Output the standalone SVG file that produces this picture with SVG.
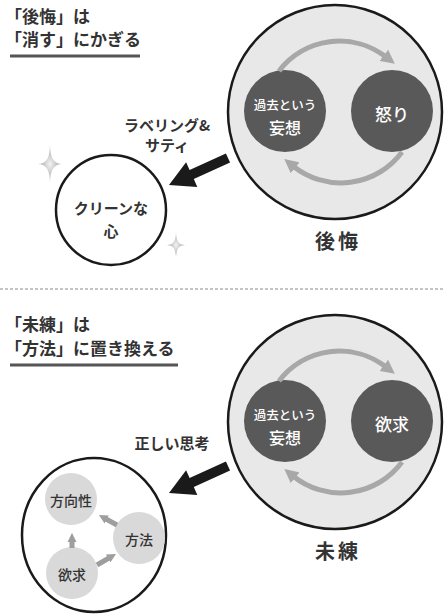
<svg xmlns="http://www.w3.org/2000/svg" width="444" height="614" viewBox="0 0 444 614">
<style>
text{font-family:"Noto Sans CJK JP","Noto Sans",sans-serif;font-weight:bold;fill:#333}
.title{font-size:17px}
.lbl{font-size:15px;text-anchor:middle}
.big{font-size:20px;text-anchor:middle;letter-spacing:3px}
.wt{fill:#fff;text-anchor:middle;font-weight:500}
.inner{font-size:14px;text-anchor:middle;font-weight:500}
.bigc{fill:#e8e8e8;stroke:#1a1a1a;stroke-width:2.5}
.dark{fill:#595959}
.cycle{fill:none;stroke:#a8a8a8;stroke-width:5;marker-end:url(#gh)}
.small{fill:none;stroke:#9e9e9e;stroke-width:5;marker-end:url(#sh)}
.light{fill:#d9d9d9}
.uline{stroke:#555;stroke-width:3}
.fat{fill:#1a1a1a}
.spark{fill:url(#sg)}
</style>
<defs>
<marker id="gh" viewBox="0 0 10 10" markerWidth="14" markerHeight="15" refX="2" refY="5" orient="auto" markerUnits="userSpaceOnUse"><path d="M0,0 L10,5 L0,10 z" fill="#a8a8a8"/></marker>
<marker id="sh" viewBox="0 0 10 10" markerWidth="9" markerHeight="13" refX="1" refY="5" orient="auto" markerUnits="userSpaceOnUse"><path d="M0,0 L10,5 L0,10 z" fill="#9e9e9e"/></marker>
<radialGradient id="sg" cx="0.5" cy="0.5" r="0.5"><stop offset="0" stop-color="#f2f2f2"/><stop offset="1" stop-color="#a0a0a0"/></radialGradient>
</defs>

<g id="title-top">
<text class="title" x="5" y="23">「後悔」は</text>
<text class="title" x="5" y="46">「消す」にかぎる</text>
<line class="uline" x1="10" y1="56" x2="140" y2="56"/>
</g>

<g id="koukai">
<circle class="bigc" cx="335" cy="112" r="107"/>
<text class="big" x="338" y="249">後悔</text>
</g>
<g id="mousou-top">
<circle class="dark" cx="285" cy="111" r="41"/>
<text class="wt" x="285" y="110" font-size="12.5">過去という</text>
<text class="wt" x="285" y="134" font-size="16">妄想</text>
</g>
<g id="ikari">
<circle class="dark" cx="392" cy="111" r="41"/>
<text class="wt" x="392" y="121" font-size="17">怒り</text>
</g>

<g id="clean">
<circle cx="111" cy="210" r="55" fill="#fff" stroke="#1a1a1a" stroke-width="2.5"/>
<text class="lbl" x="111" y="214">クリーンな</text>
<text class="lbl" x="111" y="237">心</text>
</g>
<g id="sparkles">
<path class="spark" d="M50,145 Q50,164 62,164 Q50,164 50,183 Q50,164 38,164 Q50,164 50,145 z"/>
<path class="spark" d="M176,232 Q176,245 185,245 Q176,245 176,258 Q176,245 167,245 Q176,245 176,232 z"/>
</g>

<g id="sep">
<line x1="0" y1="289" x2="444" y2="289" stroke="#8a8a8a" stroke-width="1" stroke-dasharray="3 2"/>
</g>

<g id="title-bottom">
<text class="title" x="5" y="331">「未練」は</text>
<text class="title" x="5" y="355">「方法」に置き換える</text>
<line class="uline" x1="10" y1="365" x2="178" y2="365"/>
</g>

<g id="miren">
<circle class="bigc" cx="335" cy="422" r="107"/>
<text class="big" x="338" y="559">未練</text>
</g>
<g id="mousou-bottom">
<circle class="dark" cx="285" cy="421" r="41"/>
<text class="wt" x="285" y="420" font-size="12.5">過去という</text>
<text class="wt" x="285" y="444" font-size="16">妄想</text>
</g>
<g id="yokkyu-dark">
<circle class="dark" cx="392" cy="421" r="41"/>
<text class="wt" x="392" y="431" font-size="17">欲求</text>
</g>

<g id="mind">
<ellipse cx="94" cy="535" rx="72" ry="77" fill="#fff" stroke="#1a1a1a" stroke-width="2.5"/>
</g>
<g id="houkousei">
<circle class="light" cx="71" cy="499" r="26"/>
<text class="inner" x="71" y="506">方向性</text>
</g>
<g id="houhou">
<circle class="light" cx="139" cy="538" r="26"/>
<text class="inner" x="139" y="545">方法</text>
</g>
<g id="yokkyu">
<circle class="light" cx="72" cy="573" r="26"/>
<text class="inner" x="72" y="580">欲求</text>
</g>

<g id="connectors">
<path class="cycle" d="M279,71 A76,76 0 0 1 386,57"/>
<path class="cycle" d="M402,152 A76,76 0 0 1 293,166"/>
<path class="cycle" d="M279,381 A76,76 0 0 1 386,367"/>
<path class="cycle" d="M402,462 A76,76 0 0 1 293,476"/>
<polygon class="fat" points="169,185 197.3,186.9 193.8,179.1 230.1,162.5 225.9,153.5 189.6,170.1 186.1,162.3"/>
<polygon class="fat" points="169,493 197.3,494.9 193.8,487.1 230.1,470.5 225.9,461.5 189.6,478.1 186.1,470.3"/>
<text class="lbl" x="167" y="131">ラベリング&amp;</text>
<text class="lbl" x="167" y="151">サティ</text>
<text class="lbl" x="172" y="449">正しい思考</text>
<path class="small" d="M72,548 L72,541"/>
<path class="small" d="M97,565 L109,558"/>
<path class="small" d="M117,525 L106,519"/>
</g>
</svg>
